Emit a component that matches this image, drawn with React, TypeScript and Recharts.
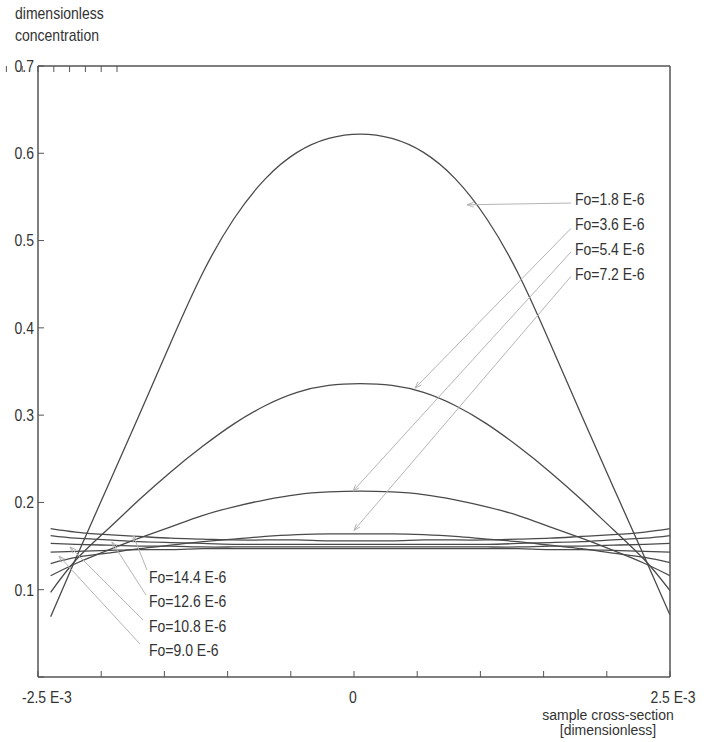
import React from "react";
import { LineChart, Line, XAxis, YAxis, ReferenceLine, ReferenceDot } from "recharts";

// cross-section position, in units of 1E-3
const crossSection = [-2.4, -2.2, -1.95, -1.7, -1.45, -1.2, -0.95, -0.7, -0.45, -0.2, 0.05, 0.3, 0.55, 0.8, 1.05, 1.3, 1.55, 1.8, 2.05, 2.3, 2.5];

const fo18 = [0.069, 0.136, 0.218, 0.3, 0.383, 0.462, 0.525, 0.571, 0.601, 0.617, 0.622, 0.617, 0.601, 0.571, 0.525, 0.462, 0.383, 0.3, 0.218, 0.137, 0.071];
const fo36 = [0.097, 0.134, 0.169, 0.203, 0.235, 0.264, 0.29, 0.311, 0.326, 0.334, 0.336, 0.334, 0.326, 0.311, 0.29, 0.264, 0.235, 0.203, 0.169, 0.134, 0.099];
const fo54 = [0.116, 0.13, 0.145, 0.159, 0.172, 0.185, 0.195, 0.203, 0.209, 0.212, 0.213, 0.212, 0.209, 0.203, 0.195, 0.185, 0.172, 0.159, 0.145, 0.13, 0.116];
const fo72 = [0.13, 0.137, 0.142, 0.147, 0.151, 0.155, 0.158, 0.161, 0.163, 0.164, 0.164, 0.164, 0.163, 0.161, 0.158, 0.155, 0.151, 0.147, 0.142, 0.137, 0.131];
const fo90 = [0.143, 0.144, 0.145, 0.146, 0.146, 0.147, 0.147, 0.147, 0.147, 0.147, 0.147, 0.147, 0.147, 0.147, 0.147, 0.147, 0.146, 0.146, 0.145, 0.144, 0.143];
const fo108 = [0.153, 0.152, 0.151, 0.15, 0.15, 0.149, 0.149, 0.149, 0.149, 0.149, 0.149, 0.149, 0.149, 0.149, 0.149, 0.149, 0.15, 0.15, 0.151, 0.152, 0.153];
const fo126 = [0.162, 0.159, 0.157, 0.155, 0.154, 0.153, 0.152, 0.152, 0.152, 0.152, 0.152, 0.152, 0.152, 0.152, 0.152, 0.153, 0.154, 0.155, 0.157, 0.159, 0.162];
const fo144 = [0.17, 0.166, 0.163, 0.161, 0.159, 0.158, 0.157, 0.157, 0.157, 0.156, 0.156, 0.156, 0.157, 0.157, 0.157, 0.158, 0.159, 0.161, 0.163, 0.166, 0.17];

const seriesKeys = ["fo18", "fo36", "fo54", "fo72", "fo90", "fo108", "fo126", "fo144"];
const seriesValues = [fo18, fo36, fo54, fo72, fo90, fo108, fo126, fo144];

const xTicks = [-2.5, -2, -1.5, -1, -0.5, 0, 0.5, 1, 1.5, 2, 2.5];
const xLabels: Record<string, string> = { "-2.5": "-2.5 E-3", "0": "0", "2.5": "2.5 E-3" };
const yTicks = [0, 0.1, 0.2, 0.3, 0.4, 0.5, 0.6, 0.7];

// callouts: label text position, line start, arrow tip (data coordinates)
const callouts = [
  { text: "Fo=1.8 E-6", tx: 1.748, ty: 0.547, fx: 1.717, fy: 0.543, px: 0.894, py: 0.541 },
  { text: "Fo=3.6 E-6", tx: 1.748, ty: 0.519, fx: 1.717, fy: 0.514, px: 0.483, py: 0.331 },
  { text: "Fo=5.4 E-6", tx: 1.748, ty: 0.49, fx: 1.717, fy: 0.487, px: -0.008, py: 0.213 },
  { text: "Fo=7.2 E-6", tx: 1.748, ty: 0.462, fx: 1.717, fy: 0.459, px: 0.0, py: 0.168 },
  { text: "Fo=14.4 E-6", tx: -1.622, ty: 0.1146, fx: -1.638, fy: 0.1226, px: -1.748, py: 0.1627 },
  { text: "Fo=12.6 E-6", tx: -1.622, ty: 0.0871, fx: -1.646, fy: 0.094, px: -1.915, py: 0.1547 },
  { text: "Fo=10.8 E-6", tx: -1.622, ty: 0.0584, fx: -1.669, fy: 0.0653, px: -2.247, py: 0.149 },
  { text: "Fo=9.0 E-6", tx: -1.622, ty: 0.0309, fx: -1.693, fy: 0.0378, px: -2.334, py: 0.1386 },
];

const data = crossSection.map((x, i) => {
  const row: Record<string, number> = { x };
  seriesKeys.forEach((k, j) => (row[k] = seriesValues[j][i]));
  return row;
});

const FONT = "'Liberation Sans', Arial, sans-serif";
const INK = "#333";
const STRETCH = "scale(1,1.2)";

function StretchText({ x, y, anchor, children }: any) {
  return (
    <g transform={`translate(${x},${y}) ${STRETCH}`}>
      <text x={0} y={0} dy="0.35em" textAnchor={anchor} fontFamily={FONT} fontSize={14} fill={INK}>
        {children}
      </text>
    </g>
  );
}

const XTick = ({ x, y, payload }: any) => {
  const v = payload.value;
  const label = xLabels[String(v)];
  if (!label) return null;
  if (v < 0) return <StretchText x={x - 16} y={y} anchor="start">{label}</StretchText>;
  if (v > 0) return <StretchText x={x + 3} y={y} anchor="middle">{label}</StretchText>;
  return <StretchText x={x - 1} y={y} anchor="middle">{label}</StretchText>;
};

const YTick = ({ x, y, payload }: any) => {
  if (payload.value === 0) return null;
  return <StretchText x={x} y={y} anchor="end">{payload.value.toFixed(1)}</StretchText>;
};

const Arrow = (props: any) => {
  const { x1, y1, x2, y2 } = props;
  const ang = Math.atan2(y2 - y1, x2 - x1);
  const len = 7;
  const a1 = ang + Math.PI - 0.35;
  const a2 = ang + Math.PI + 0.35;
  return (
    <g stroke="#b4b4b4" strokeWidth={1} fill="none">
      <line x1={x1} y1={y1} x2={x2} y2={y2} />
      <polyline
        points={`${x2 + len * Math.cos(a1)},${y2 + len * Math.sin(a1)} ${x2},${y2} ${x2 + len * Math.cos(a2)},${y2 + len * Math.sin(a2)}`}
      />
    </g>
  );
};

const axisLine = { stroke: "#555", strokeWidth: 1.5 };
const tickLine = { stroke: "#555", strokeWidth: 1 };

export default function App() {
  return (
    <div style={{ position: "absolute", left: 0, top: 0, width: 715, height: 742, background: "#fff" }}>
      <div style={{ position: "absolute", left: 15, top: 3, fontFamily: FONT, fontSize: 14, color: INK, lineHeight: "19px", transform: "scale(1,1.15)", transformOrigin: "0 0" }}>
        dimensionless
        <br />
        concentration
      </div>
      <div style={{ position: "absolute", left: 508, width: 200, top: 708, fontFamily: FONT, fontSize: 14, color: INK, lineHeight: "15px", textAlign: "center" }}>
        sample cross-section
        <br />
        [dimensionless]
      </div>
      <LineChart width={715} height={742} data={data} margin={{ top: 0, right: 0, bottom: 0, left: 0 }}>
        <XAxis
          dataKey="x"
          type="number"
          domain={[-2.5, 2.5]}
          ticks={xTicks}
          height={65}
          tickSize={-6}
          tickMargin={26}
          axisLine={axisLine}
          tickLine={tickLine}
          tick={<XTick />}
          allowDataOverflow
        />
        <XAxis
          xAxisId="top"
          orientation="top"
          type="number"
          domain={[-2.5, 2.5]}
          ticks={xTicks}
          height={66}
          tickSize={-6}
          axisLine={axisLine}
          tickLine={tickLine}
          tickFormatter={() => ""}
        />
        <YAxis
          type="number"
          domain={[0, 0.7]}
          ticks={yTicks}
          width={38}
          tickSize={-6}
          tickMargin={10}
          axisLine={axisLine}
          tickLine={tickLine}
          tick={<YTick />}
          allowDataOverflow
        />
        <YAxis
          yAxisId="right"
          orientation="right"
          type="number"
          domain={[0, 0.7]}
          ticks={yTicks}
          width={45}
          tickSize={-6}
          axisLine={axisLine}
          tickLine={tickLine}
          tickFormatter={() => ""}
        />
        {seriesKeys.map((k) => (
          <Line
            key={k}
            dataKey={k}
            type="natural"
            stroke="#4a4a4a"
            strokeWidth={1.3}
            dot={false}
            isAnimationActive={false}
          />
        ))}
        {callouts.map((c) => (
          <ReferenceLine
            key={"l" + c.text}
            segment={[{ x: c.fx, y: c.fy }, { x: c.px, y: c.py }]}
            shape={Arrow}
          />
        ))}
        {callouts.map((c) => (
          <ReferenceDot
            key={"t" + c.text}
            x={c.tx}
            y={c.ty}
            r={0}
            shape={(p: any) => <StretchText x={p.cx} y={p.cy} anchor="start">{c.text}</StretchText>}
          />
        ))}
      </LineChart>
    </div>
  );
}
